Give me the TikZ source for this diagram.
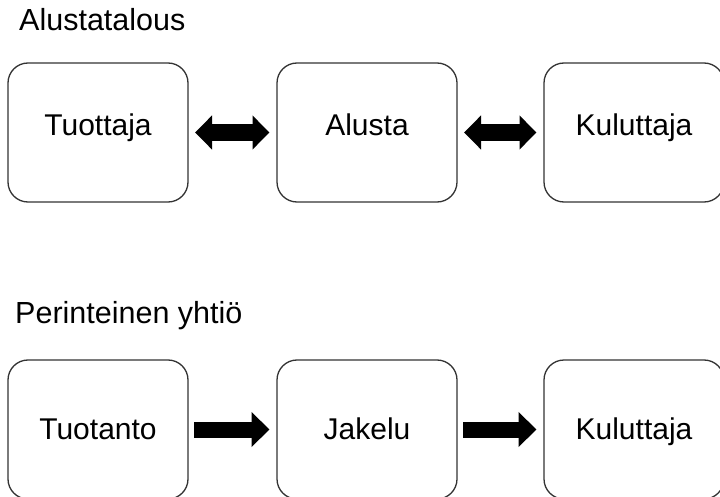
\documentclass[tikz,border=0pt]{standalone}
\usepackage{fontspec}
\setmainfont{Liberation Sans}
\usetikzlibrary{arrows.meta}
\begin{document}
\begin{tikzpicture}[x=1pt,y=-1pt,
	box/.style={draw=black!80,line width=1.3pt,rounded corners=20pt,minimum width=180pt,minimum height=139pt,inner sep=0pt,outer sep=0pt,font=\fontsize{30}{36}\selectfont,text height=21pt},
	toprow/.style={text depth=14pt},
	bottomrow/.style={text depth=1.5pt},
	title/.style={anchor=base west,inner sep=0pt,font=\fontsize{30.5}{36}\selectfont},
	fatdouble/.style={line width=17pt,{Triangle[length=17pt,width=33pt]}-{Triangle[length=17pt,width=33pt]},shorten <=7pt,shorten >=7.5pt},
	fatsingle/.style={line width=16pt,-{Triangle[length=18pt,width=34pt]},shorten <=6pt,shorten >=7.5pt}]
		\useasboundingbox (0,0) rectangle (720,497);
		\node[title] (alustatalous) at (19,31) {Alustatalous};
		\node[title] (perinteinen) at (15,323) {Perinteinen yhtiö};
		\node[box,toprow] (tuottaja) at (98,132.5) {Tuottaja};
		\node[box,toprow] (alusta) at (367,132.5) {Alusta};
		\node[box,toprow] (kuluttaja1) at (634,132.5) {Kuluttaja};
		\node[box,bottomrow] (tuotanto) at (98,429.5) {Tuotanto};
		\node[box,bottomrow] (jakelu) at (367,429.5) {Jakelu};
		\node[box,bottomrow] (kuluttaja2) at (634,429.5) {Kuluttaja};
		\draw[fatdouble](tuottaja)--(alusta);
		\draw[fatdouble](alusta)--(kuluttaja1);
		\draw[fatsingle](tuotanto)--(jakelu);
		\draw[fatsingle](jakelu)--(kuluttaja2);
	    \end{tikzpicture}
\end{document}
